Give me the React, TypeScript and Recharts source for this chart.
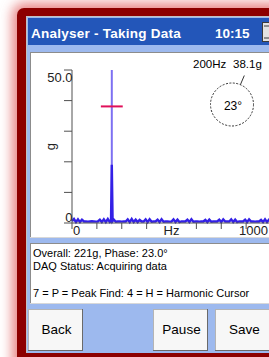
import React from 'react';
import { LineChart, Line, XAxis, YAxis, ReferenceLine, Label } from 'recharts';

const FONT = '"Liberation Sans", Arial, sans-serif';

// Spectrum: frequency (Hz) and amplitude (g)
const freqHz = [
  0, 10, 20, 30, 40, 50, 60, 70, 80, 90,
  100, 110, 120, 130, 140, 150, 160, 170, 180, 190,
  196, 200, 204,
  210, 220, 230, 240, 250, 260, 270, 280, 290, 300,
  310, 320, 330, 340, 350, 360, 370, 380, 390, 400,
  410, 420, 430, 440, 450, 460, 470, 480, 490, 500,
  510, 520, 530, 540, 550, 560, 570, 580, 590, 600,
  610, 620, 630, 640, 650, 660, 670, 680, 690, 700,
  710, 720, 730, 740, 750, 760, 770, 780, 790, 800,
  810, 820, 830, 840, 850, 860, 870, 880, 890, 900,
  910, 920, 930, 940, 950, 960, 970, 980, 990, 1000,
];
const amplitudeG = [
  0.6, 1.3, 0.3, 1.2, 0.3, 1.1, 0.5, 0.5, 0.45, 0.5,
  0.55, 0.5, 0.45, 0.5, 1.1, 0.3, 1.2, 0.3, 1.3, 0.3,
  0.6, 19.0, 0.6,
  1.1, 0.4, 0.5, 0.5, 0.45, 0.5, 0.5, 1.2, 0.3, 1.3,
  0.3, 1.1, 0.3, 1.0, 0.5, 0.5, 1.2, 0.3, 1.2, 0.4,
  0.5, 0.5, 1.1, 0.3, 1.2, 0.4, 0.5, 0.5, 0.45, 0.5,
  1.2, 0.3, 1.1, 0.3, 0.5, 0.5, 0.5, 1.1, 0.3, 1.2,
  0.4, 0.5, 0.5, 0.45, 0.5, 0.5, 1.0, 0.3, 1.1, 0.4,
  0.5, 0.5, 0.5, 1.1, 0.3, 1.2, 0.5, 0.5, 0.5, 1.2,
  0.3, 1.1, 0.3, 0.5, 0.5, 0.5, 1.1, 0.3, 1.2, 0.5,
  0.5, 0.45, 0.5, 0.5, 1.0, 0.3, 1.2, 0.3, 1.1, 0.5,
];

const xTicks = [0, 125, 250, 375, 500, 625, 750, 875, 1000];
const yTicks = [0, 10, 20, 30, 40, 50];
const xTickLabels: Record<number, string> = { 0: '0', 500: 'Hz', 1000: '1000' };
const yTickLabels: Record<number, string> = { 0: '0', 50: '50.0' };

const cursorHz = 200;
const cursorG = 38.1;
const cursorSpanHz = [145, 255];
const phaseDeg = 23;

const statusLines = [
  'Overall: 221g, Phase: 23.0°',
  'DAQ Status: Acquiring data',
  '',
  '7 = P = Peak Find: 4 = H = Harmonic Cursor',
];
const buttons = [
  { label: 'Back', x: 28, w: 55 },
  { label: 'Pause', x: 153, w: 55 },
  { label: 'Save', x: 215, w: 57 },
];

const data = freqHz.map((f, i) => ({ f, g: amplitudeG[i] }));

const AXIS = '#505050';

function YTick(props: any) {
  const { x, y, payload } = props;
  const v = payload.value;
  const label = yTickLabels[v];
  return (
    <g>
      <line x1={x - 8} x2={x} y1={y} y2={y} stroke={AXIS} strokeWidth={1} />
      {label ? (
        <text x={x + 0.5} y={v === 50 ? y + 12 : y - 1} textAnchor="end" fontSize={13} fill="#222" fontFamily={FONT}>
          {label}
        </text>
      ) : null}
    </g>
  );
}

function XTick(props: any) {
  const { x, y, payload } = props;
  const v = payload.value;
  const label = xTickLabels[v];
  const anchor = v === 0 ? 'start' : v === 1000 ? 'end' : 'middle';
  const lx = v === 0 ? x + 1 : v === 1000 ? x - 3 : x;
  return (
    <g>
      {v !== 500 ? <line x1={x} x2={x} y1={y} y2={y + 6} stroke={AXIS} strokeWidth={1} /> : null}
      {label ? (
        <text x={lx} y={y + 12} textAnchor={anchor} fontSize={13} fill="#222" fontFamily={FONT}>
          {label}
        </text>
      ) : null}
    </g>
  );
}

export default function App() {
  const cx = 232;
  const cy = 104.5;
  const r = 21.5;
  const a = (phaseDeg * Math.PI) / 180;
  const p1 = { x: cx + r * Math.sin(a), y: cy - r * Math.cos(a) };
  const p2 = { x: cx + (r + 10) * Math.sin(a), y: cy - (r + 10) * Math.cos(a) };

  return (
    <div style={{ position: 'fixed', left: 0, top: 0, width: 269, height: 357, overflow: 'hidden', background: '#fff', fontFamily: FONT }}>
      <div
        style={{
          position: 'absolute', left: 17, top: 8, width: 320, height: 420,
          background: '#8c0000', borderRadius: 7,
          boxShadow: '0 0 12px 5px rgba(225,95,95,0.75)',
        }}
      />
      <svg width={269} height={357} style={{ position: 'absolute', left: 0, top: 0 }}>
        <rect x={26} y={16} width={260} height={337} fill="#c2c2c2" />
        <rect x={27} y={17} width={260} height={336} fill="#9db9ee" />
        {/* title bar */}
        <rect x={28} y={18} width={260} height={27} fill="#2356b9" />
        <text x={31} y={37.5} fill="#fff" fontSize={13.5} fontWeight="bold" letterSpacing={0.25} fontFamily={FONT}>
          Analyser - Taking Data
        </text>
        <text x={215} y={37.5} fill="#fff" fontSize={13.5} fontWeight="bold" fontFamily={FONT}>
          10:15
        </text>
        <rect x={262.5} y={22.5} width={10} height={19} fill="#e2e2e2" stroke="#3a3a3a" />
        <line x1={264} x2={272} y1={26} y2={26} stroke="#3a3a3a" />
        <line x1={264} x2={272} y1={38} y2={38} stroke="#3a3a3a" />
        {/* chart panel */}
        <rect x={30} y={52} width={260} height={186} fill="#fff" />
        <line x1={30} x2={290} y1={52.5} y2={52.5} stroke="#8c8c8c" />
        <line x1={30.5} x2={30.5} y1={52} y2={238} stroke="#8c8c8c" />
        <line x1={30} x2={290} y1={237.5} y2={237.5} stroke="#d8d8d8" />
        {/* text panel */}
        <rect x={30} y={243} width={260} height={61} fill="#fff" />
        <line x1={30} x2={290} y1={243.5} y2={243.5} stroke="#8c8c8c" />
        <line x1={30.5} x2={30.5} y1={243} y2={304} stroke="#8c8c8c" />
        <line x1={30} x2={290} y1={303.5} y2={303.5} stroke="#d8d8d8" />
        {statusLines.map((t, i) => (
          <text key={i} x={33} y={256.5 + i * 13.5} fontSize={11} fill="#000" fontFamily={FONT}>
            {t}
          </text>
        ))}
        {/* buttons */}
        {buttons.map((b) => (
          <g key={b.label}>
            <rect x={b.x + 0.5} y={309.5} width={b.w - 1} height={41} fill="#f7f7f7" stroke="#b4b4b4" />
            <line x1={b.x + b.w - 0.5} x2={b.x + b.w - 0.5} y1={309} y2={351} stroke="#6a6a6a" />
            <line x1={b.x} x2={b.x + b.w} y1={350.5} y2={350.5} stroke="#6a6a6a" />
            <text x={b.x + b.w / 2 + 1} y={334} textAnchor="middle" fontSize={13.5} fill="#000" fontFamily={FONT}>
              {b.label}
            </text>
          </g>
        ))}
      </svg>

      <div style={{ position: 'absolute', left: 30, top: 52 }}>
        <LineChart width={250} height={190} data={data} margin={{ top: 18, right: 9, left: 0, bottom: 0 }}>
          <XAxis
            dataKey="f"
            type="number"
            domain={[0, 1000]}
            ticks={xTicks}
            interval={0}
            tickSize={0}
            tickMargin={0}
            tickLine={false}
            height={19}
            axisLine={{ stroke: AXIS }}
            tick={<XTick />}
          />
          <YAxis
            type="number"
            domain={[0, 50]}
            ticks={yTicks}
            interval={0}
            tickSize={0}
            tickMargin={0}
            tickLine={false}
            width={42}
            axisLine={{ stroke: AXIS }}
            tick={<YTick />}
          >
            <Label
              content={(p: any) => {
                const vb = p.viewBox || { x: 0, y: 18, width: 42, height: 153 };
                const lx = vb.x + 25;
                const ly = vb.y + vb.height / 2;
                return (
                  <text x={lx} y={ly} transform={`rotate(-90 ${lx} ${ly})`} textAnchor="middle" fontSize={13} fill="#222" fontFamily={FONT}>
                    g
                  </text>
                );
              }}
            />
          </YAxis>
          <ReferenceLine x={cursorHz} stroke="#7d70f2" strokeWidth={2} />
          <Line dataKey="g" stroke="#3320e6" strokeWidth={2.4} dot={false} isAnimationActive={false} />
          <ReferenceLine
            segment={[{ x: cursorSpanHz[0], y: cursorG }, { x: cursorSpanHz[1], y: cursorG }]}
            stroke="#e0105a"
            strokeWidth={2}
          />
        </LineChart>
      </div>

      <svg width={269} height={357} style={{ position: 'absolute', left: 0, top: 0, pointerEvents: 'none' }}>
        <text x={193} y={68} fontSize={11.5} fill="#000" fontFamily={FONT}>
          {`${cursorHz}Hz`}
        </text>
        <text x={233} y={68} fontSize={11.5} fill="#000" fontFamily={FONT}>
          {`${cursorG}g`}
        </text>
        <circle cx={cx} cy={cy} r={r} fill="none" stroke="#333" strokeWidth={1} strokeDasharray="2 1.5" />
        <line x1={p1.x} y1={p1.y} x2={p2.x} y2={p2.y} stroke="#333" strokeWidth={1} />
        <text x={cx + 1} y={109.5} textAnchor="middle" fontSize={12} fill="#000" fontFamily={FONT}>
          {`${phaseDeg}°`}
        </text>
      </svg>
    </div>
  );
}
